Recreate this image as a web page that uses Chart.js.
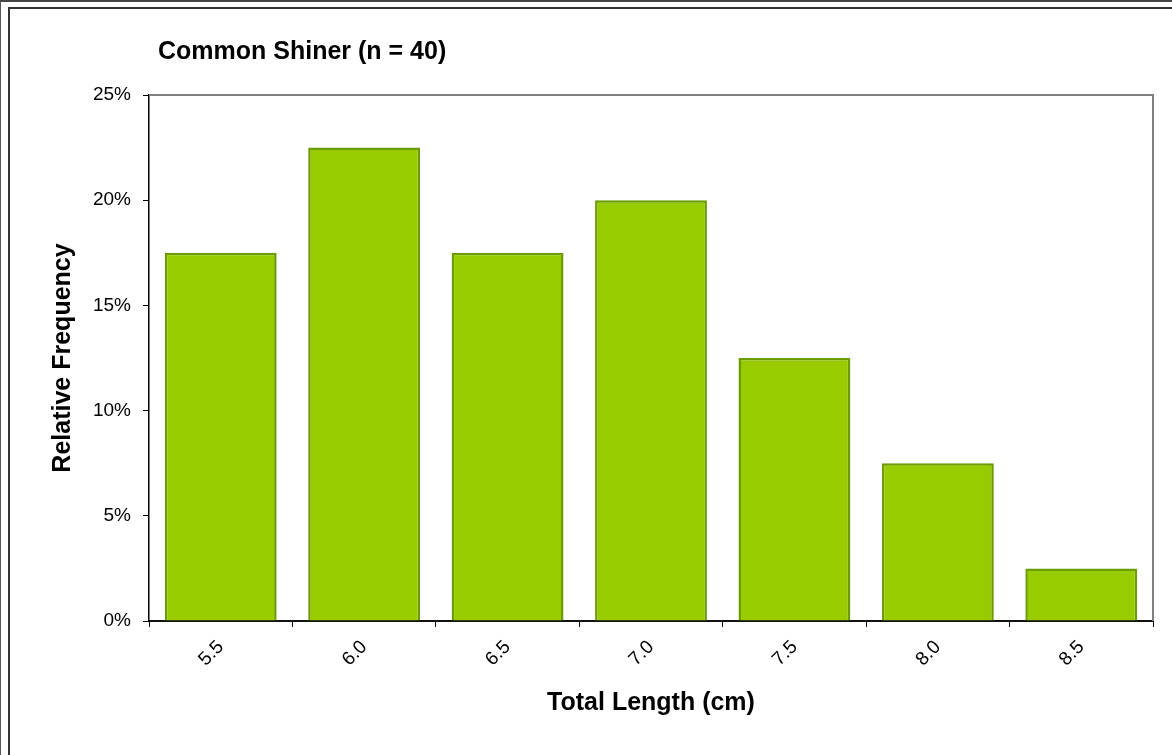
<!DOCTYPE html>
<html><head><meta charset="utf-8">
<script src="https://cdn.jsdelivr.net/npm/chart.js@4"></script>
<style>
html,body{margin:0;padding:0;background:#fff;overflow:hidden;width:1172px;height:755px;}
#outer{position:absolute;left:0;top:0;width:1300px;height:900px;border-top:2px solid #444;border-left:1px solid #555;}
#inner{position:absolute;left:8px;top:7px;width:1300px;height:900px;border-top:2px solid #333;border-left:2px solid #333;}
#c{position:absolute;left:0;top:0;}
</style></head><body>
<div id="outer"></div><div id="inner"></div>
<canvas id="c" width="1172" height="755"></canvas>
<script>
const categories = ['5.5', '6.0', '6.5', '7.0', '7.5', '8.0', '8.5'];
const frequency = [17.5, 22.5, 17.5, 20, 12.5, 7.5, 2.5];
const yTickValues = [0, 5, 10, 15, 20, 25];
const chartTitle = 'Common Shiner (n = 40)';
const xTitle = 'Total Length (cm)';
const yTitle = 'Relative Frequency';

const FONT = '"Liberation Sans", Arial, Helvetica, sans-serif';

const plotFrame = {
  id: 'plotFrame',
  beforeDatasetsDraw(chart) {
    const {ctx, chartArea: a} = chart;
    ctx.save();
    ctx.strokeStyle = '#808080';
    ctx.lineWidth = 2;
    ctx.beginPath();
    ctx.moveTo(a.left, a.top);
    ctx.lineTo(a.right, a.top);
    ctx.lineTo(a.right, a.bottom);
    ctx.stroke();
    ctx.restore();
  }
};

const leftTitle = {
  id: 'leftTitle',
  afterDraw(chart) {
    const {ctx, chartArea: a} = chart;
    ctx.save();
    ctx.font = 'bold 25px ' + FONT;
    ctx.fillStyle = '#000';
    ctx.textAlign = 'left';
    ctx.textBaseline = 'middle';
    ctx.fillText(chartTitle, a.left + 9, a.top - 43);
    ctx.restore();
  }
};

new Chart(document.getElementById('c'), {
  type: 'bar',
  data: {
    labels: categories,
    datasets: [{
      data: frequency,
      backgroundColor: '#99CC00',
      borderColor: '#6B9C00',
      borderWidth: 2.5,
      barPercentage: 0.78,
      categoryPercentage: 1
    }]
  },
  options: {
    responsive: false,
    animation: false,
    layout: {padding: {top: 95, right: 19, left: 0, bottom: 0}},
    plugins: {legend: {display: false}, tooltip: {enabled: false}, title: {display: false}},
    scales: {
      x: {
        offset: true,
        grid: {display: true, offset: true, drawOnChartArea: false, drawTicks: true, tickLength: 6, color: '#000'},
        border: {display: true, color: '#111', width: 2},
        ticks: {maxRotation: 45, minRotation: 45, color: '#000', font: {family: FONT, size: 19}, padding: 9},
        title: {display: true, text: xTitle, color: '#000', font: {family: FONT, size: 25, weight: 'bold'}, padding: {top: 0, bottom: 37}},
        afterFit(scale) { scale.height = 134; }
      },
      y: {
        min: 0, max: 25,
        afterBuildTicks(scale) { scale.ticks = yTickValues.map(v => ({value: v})); },
        grid: {display: true, drawOnChartArea: false, drawTicks: true, tickLength: 6, color: '#000'},
        border: {display: true, color: '#000', width: 1.5},
        ticks: {color: '#000', font: {family: FONT, size: 19}, padding: 12, callback: v => v + '%'},
        title: {display: true, text: yTitle, color: '#000', font: {family: FONT, size: 25, weight: 'bold'}, padding: {top: 48, bottom: 0}},
        afterFit(scale) { scale.width = 149; }
      }
    }
  },
  plugins: [plotFrame, leftTitle]
});
</script>
</body></html>
